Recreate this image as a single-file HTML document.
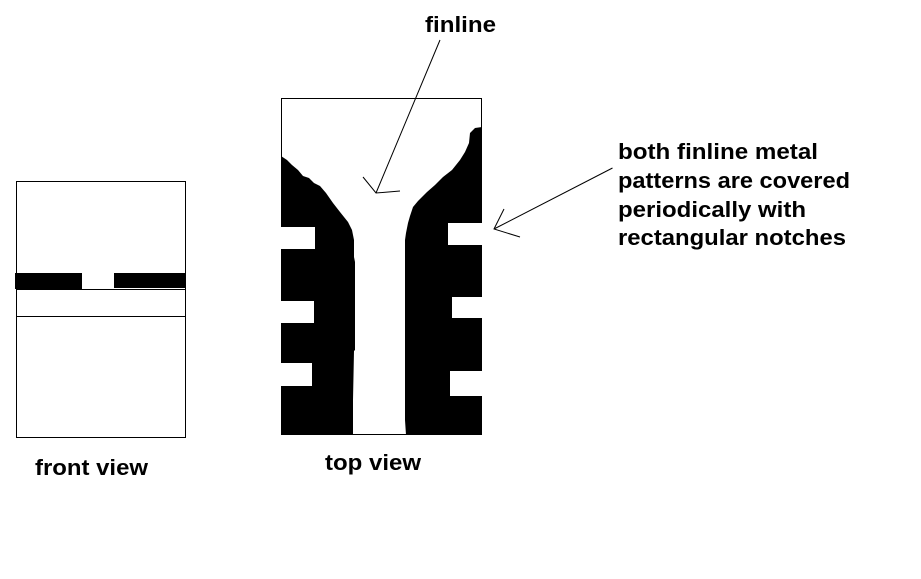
<!DOCTYPE html>
<html>
<head>
<meta charset="utf-8">
<style>
html,body{margin:0;padding:0;background:#fff;}
svg{display:block;}
text{font-family:"Liberation Sans",Arial,sans-serif;font-weight:bold;font-size:22px;fill:#000;}
</style>
</head>
<body>
<svg width="921" height="579" viewBox="0 0 921 579" xmlns="http://www.w3.org/2000/svg">
<rect width="921" height="579" fill="#fff"/>
<!-- front view -->
<rect x="16.5" y="181.5" width="169" height="256" fill="none" stroke="#000" stroke-width="1"/>
<rect x="15" y="273" width="67" height="16" fill="#000"/>
<rect x="114" y="273" width="72" height="15" fill="#000"/>
<line x1="16" y1="289.5" x2="185" y2="289.5" stroke="#000"/>
<line x1="16" y1="316.5" x2="185" y2="316.5" stroke="#000"/>
<!-- top view -->
<path d="M281.5 157V98.5H481.5V128" fill="none" stroke="#000"/>
<path d="M281 156 L287 160 L292 165 L298 170 L303 176 L309 178 L314 183 L320 186 L326 193 L333 203 L340 212 L348 222 L352 230 L354 240 L354 257 L355 262 L355 350 L354 351 L353 400 L353 435 L281 435 L281 386 L312 386 L312 363 L281 363 L281 323 L314 323 L314 301 L281 301 L281 249 L315 249 L315 227 L281 227 Z" fill="#000"/>
<path d="M482 127 L475 128 L470 133 L469 143 L465 152 L460 160 L452 170 L443 177 L435 185 L427 192 L418 201 L413 207 L410 216 L408 223 L406 233 L405 240 L405 420 L406 435 L482 435 L482 396 L450 396 L450 371 L482 371 L482 318 L452 318 L452 297 L482 297 L482 245 L448 245 L448 223 L482 223 Z" fill="#000"/>
<line x1="353" y1="434.5" x2="407" y2="434.5" stroke="#000"/>
<!-- arrows -->
<path d="M440 40 L376 193 M363 177 L376 193 L400 191" fill="none" stroke="#000" stroke-width="1"/>
<path d="M612.5 168 L494 229 M504 209 L494 229 L520 237" fill="none" stroke="#000" stroke-width="1"/>
<!-- labels -->
<text x="425" y="32" textLength="71" lengthAdjust="spacingAndGlyphs">finline</text>
<text x="618" y="159" textLength="200" lengthAdjust="spacingAndGlyphs">both finline metal</text>
<text x="618" y="188" textLength="232" lengthAdjust="spacingAndGlyphs">patterns are covered</text>
<text x="618" y="217" textLength="188" lengthAdjust="spacingAndGlyphs">periodically with</text>
<text x="618" y="245" textLength="228" lengthAdjust="spacingAndGlyphs">rectangular notches</text>
<text x="35" y="475" textLength="113" lengthAdjust="spacingAndGlyphs">front view</text>
<text x="325" y="470" textLength="96" lengthAdjust="spacingAndGlyphs">top view</text>
</svg>
</body>
</html>
